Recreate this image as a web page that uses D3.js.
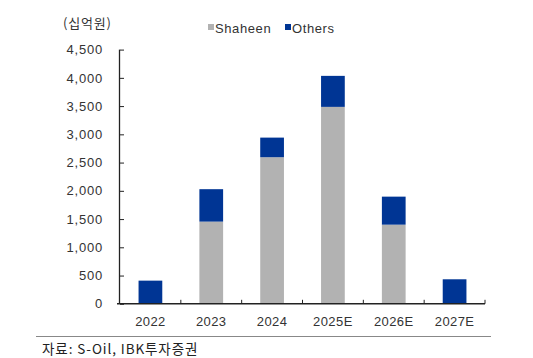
<!DOCTYPE html>
<html><head><meta charset="utf-8">
<script src="https://cdn.jsdelivr.net/npm/d3@7"></script>
<style>body{margin:0;background:#fff}svg{display:block}</style>
</head><body>
<svg id="c" width="533" height="358"></svg>
<script>
const categories = ["2022","2023","2024","2025E","2026E","2027E"];
const shaheen = [0, 1455, 2595, 3486, 1401, 0];
const others  = [410, 574, 347, 549, 496, 434];
const yTicks = [0,500,1000,1500,2000,2500,3000,3500,4000,4500];
const seriesNames = ["Shaheen","Others"];
const colors = ["#b2b2b2","#003594"];

const svg = d3.select("#c");
const x0 = 120, x1 = 485, yTop = 49.6, yBot = 303.8;
const x = d3.scaleBand().domain(categories).range([x0,x1]).paddingInner(0.61).paddingOuter(0.305);
const y = d3.scaleLinear().domain([0,4500]).range([yBot,yTop]);
const font = "'Liberation Sans', Arial, sans-serif";

const rows = categories.map((c,i)=>({cat:c, Shaheen:shaheen[i], Others:others[i]}));
const stacked = d3.stack().keys(seriesNames)(rows);

svg.append("g").selectAll("g").data(stacked).join("g")
  .attr("fill",(d,i)=>colors[i])
  .selectAll("rect").data(d=>d).join("rect")
  .attr("x",d=>x(d.data.cat)).attr("width",x.bandwidth())
  .attr("y",d=>y(d[1])).attr("height",d=>Math.max(0,y(d[0])-y(d[1])));

// y axis
const ya = svg.append("g").attr("transform",`translate(${x0},0)`)
  .call(d3.axisLeft(y).tickValues(yTicks).tickSize(-4).tickPadding(17).tickFormat(d3.format(",")));
ya.select(".domain").attr("stroke","#222").attr("stroke-width",1.3).attr("d",`M-0.5,${yTop}V${yBot}`);
ya.selectAll(".tick line").attr("stroke","#222");
ya.selectAll("text").attr("font-family",font).attr("font-size",13).attr("letter-spacing",0.8).attr("fill","#333");

// x axis
const xa = svg.append("g").attr("transform",`translate(0,${yBot})`);
xa.append("line").attr("x1",x0-3).attr("x2",x1).attr("y1",0).attr("y2",0).attr("stroke","#222").attr("stroke-width",1.5);
const bounds = categories.map((c,i)=>x0 + (i+1)*(x1-x0)/categories.length);
xa.selectAll(".bt").data(bounds).join("line").attr("class","bt")
  .attr("x1",d=>d).attr("x2",d=>d).attr("y1",0).attr("y2",-4).attr("stroke","#222");
xa.selectAll(".xl").data(categories).join("text").attr("class","xl")
  .attr("x",d=>x(d)+x.bandwidth()/2).attr("y",22.5).attr("text-anchor","middle")
  .attr("font-family",font).attr("font-size",13).attr("letter-spacing",0.4).attr("fill","#333").text(d=>d);

// unit label
svg.append("text").attr("x",63).attr("y",28).attr("font-family","'Noto Sans CJK KR', sans-serif")
  .attr("font-size",13).attr("letter-spacing",0.8).attr("fill","#333").text("(십억원)");

// legend
const leg = [{n:"Shaheen",x:208},{n:"Others",x:285}];
leg.forEach((l,i)=>{
  svg.append("rect").attr("x",l.x).attr("y",24).attr("width",6).attr("height",6).attr("fill",colors[i]);
  svg.append("text").attr("x",l.x+7).attr("y",32.5).attr("font-family",font).attr("font-size",13)
    .attr("letter-spacing",0.6).attr("fill","#333").text(l.n);
});

// source
svg.append("line").attr("x1",36).attr("x2",491).attr("y1",336.5).attr("y2",336.5).attr("stroke","#888").attr("stroke-width",1);
svg.append("text").attr("x",42).attr("y",353.5).attr("font-family","'Noto Sans CJK KR', serif")
  .attr("font-size",13.5).attr("letter-spacing",0.9).attr("fill","#222").text("자료: S-Oil, IBK투자증권");
</script>
</body></html>
